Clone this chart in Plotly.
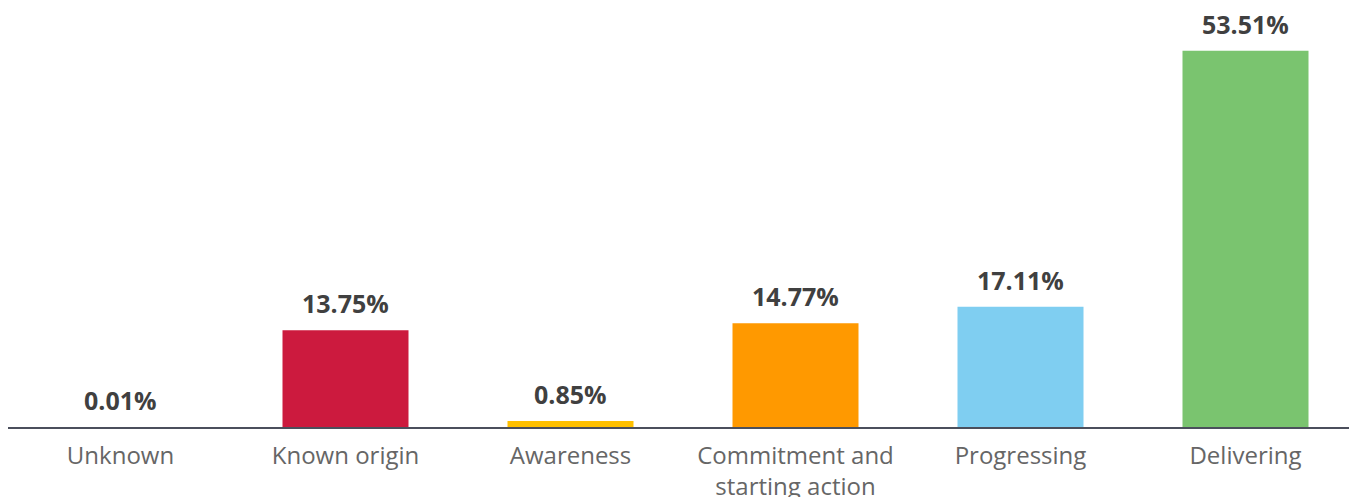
import plotly.graph_objects as go

categories = ["Unknown", "Known origin", "Awareness", "Commitment and<br>starting action", "Progressing", "Delivering"]
values = [0.01, 13.75, 0.85, 14.77, 17.11, 53.51]
labels = ["0.01%", "13.75%", "0.85%", "14.77%", "17.11%", "53.51%"]
colors = ["rgba(0,0,0,0)", "#CC1A3E", "#FFC000", "#FF9900", "#7FCEF1", "#7AC46F"]

fig = go.Figure()
fig.add_trace(go.Bar(
    x=categories, y=values, marker=dict(color=colors, line=dict(width=0)),
    width=0.56, hoverinfo="skip", cliponaxis=False,
))
for c, v, t in zip(categories, values, labels):
    fig.add_annotation(x=c, y=v, text=t, showarrow=False, yanchor="bottom",
                       yshift=9, borderpad=0,
                       font=dict(family="Open Sans", size=25, color="#404040", weight="bold"))

fig.update_layout(
    width=1357, height=497,
    margin=dict(l=0, r=7, t=0, b=78),
    plot_bgcolor="white", paper_bgcolor="white",
    showlegend=False,
    xaxis=dict(showline=True, linecolor="#4B4F5C", linewidth=2, ticks="", showgrid=False,
               tickfont=dict(family="Open Sans", size=24, color="#666666"), ticklabelstandoff=6),
    yaxis=dict(visible=False, range=[0, 59.6], fixedrange=True),
)
fig.write_html("out.html")
